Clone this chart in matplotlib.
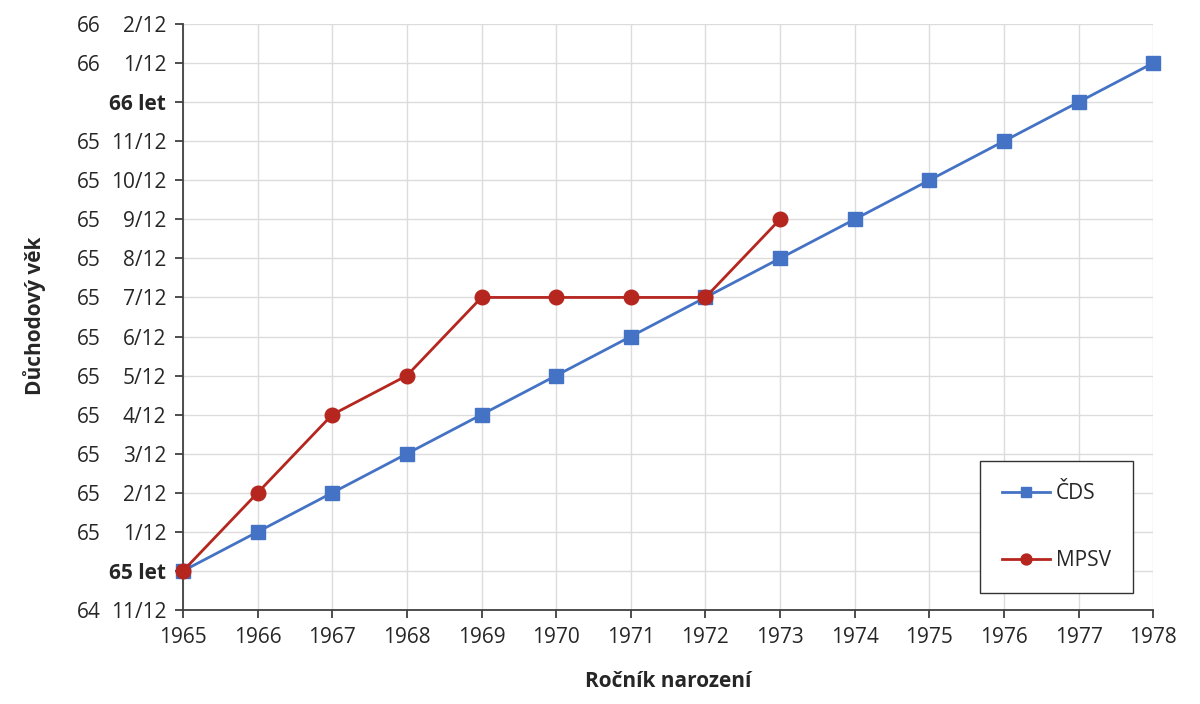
import numpy as np
import matplotlib.pyplot as plt

plt.rcParams['font.family'] = ['Open Sans', 'DejaVu Sans']

# data: months above 65 years
years_cds = [1965, 1966, 1967, 1968, 1969, 1970, 1971, 1972, 1973, 1974, 1975, 1976, 1977, 1978]
months_cds = [0, 1, 2, 3, 4, 5, 6, 7, 8, 9, 10, 11, 12, 13]
years_mpsv = [1965, 1966, 1967, 1968, 1969, 1970, 1971, 1972, 1973]
months_mpsv = [0, 2, 4, 5, 7, 7, 7, 7, 9]

tick_months = list(range(-1, 15))
tick_whole = ['64', '', '65', '65', '65', '65', '65', '65', '65', '65', '65', '65', '65', '', '66', '66']
tick_frac = ['11/12', '65 let', '1/12', '2/12', '3/12', '4/12', '5/12', '6/12', '7/12',
             '8/12', '9/12', '10/12', '11/12', '66 let', '1/12', '2/12']

blue = '#4472C4'
red = '#B5261E'
txt = '#262626'
fs = 15

fig = plt.figure(figsize=(12, 7.04), dpi=100)
ax = fig.add_axes([0.1525, 0.1335, 0.8085, 0.8325])

ax.plot(years_cds, months_cds, color=blue, lw=2, marker='s', ms=10.5, label='ČDS', zorder=3, clip_on=False)
ax.plot(years_mpsv, months_mpsv, color=red, lw=2, marker='o', ms=10.5, label='MPSV', zorder=4, clip_on=False)

ax.set_xlim(1965, 1978)
ax.set_ylim(-1, 14)
ax.set_xticks(years_cds)
ax.set_yticks(tick_months)
ax.set_yticklabels(tick_frac)
for lab, t in zip(ax.get_yticklabels(), tick_frac):
    lab.set_verticalalignment('center_baseline')
    if 'let' in t:
        lab.set_fontweight('bold')

# whole-year column on the left
trans = ax.get_yaxis_transform()
for m, w in zip(tick_months, tick_whole):
    if w:
        ax.text(-0.109, m, w, transform=trans, ha='left', va='center_baseline',
                fontsize=fs, color=txt, clip_on=False)

ax.grid(True, color='#dcdcdc', lw=1)
ax.set_axisbelow(True)
for s in ['top', 'right']:
    ax.spines[s].set_visible(False)
for s in ['left', 'bottom']:
    ax.spines[s].set_color('#404040')
    ax.spines[s].set_linewidth(1.3)
ax.tick_params(axis='both', length=6, width=1.3, color='#404040', labelsize=fs, labelcolor=txt)
ax.tick_params(axis='y', pad=6)
ax.tick_params(axis='x', pad=6)

ax.set_xlabel('Ročník narození', fontsize=fs, fontweight='bold', color=txt, labelpad=17)
fig.text(0.029, 0.552, 'Důchodový věk', rotation=90, fontsize=fs, fontweight='bold',
         color=txt, ha='center', va='center')

leg = ax.legend(loc='lower right', bbox_to_anchor=(0.979, 0.029), borderaxespad=0,
                fontsize=fs, labelspacing=2.2, borderpad=1.05, handlelength=2.3,
                handletextpad=0.3, fancybox=False, framealpha=1, edgecolor='#333333',
                markerscale=0.75)
leg.get_frame().set_linewidth(1.0)
for t in leg.get_texts():
    t.set_color(txt)

fig.savefig('out.png', dpi=100)
